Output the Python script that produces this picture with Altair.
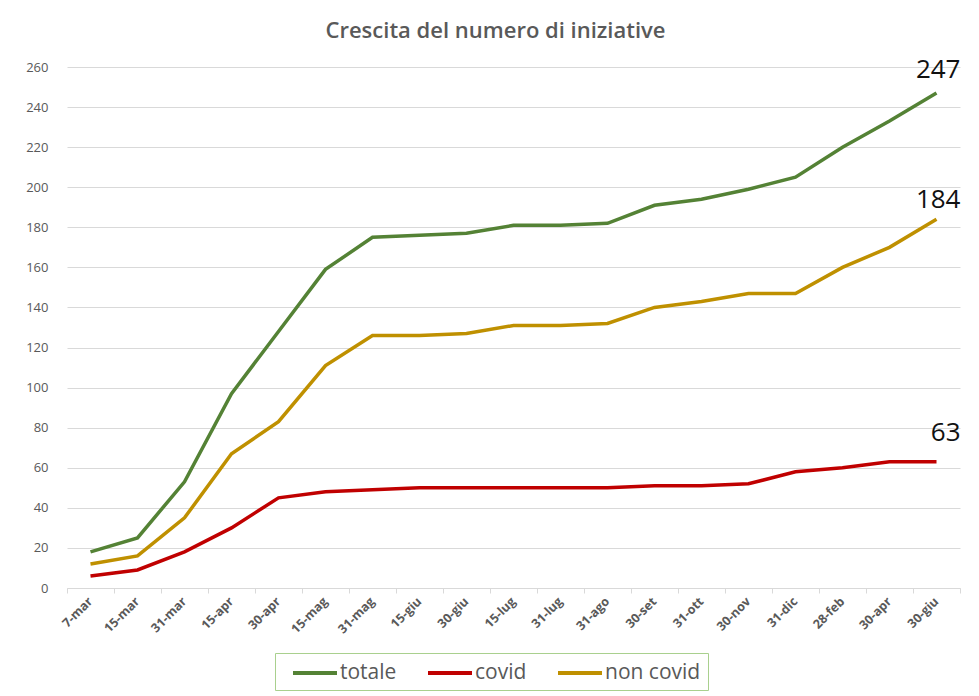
import altair as alt
import pandas as pd

labels = ["7-mar", "15-mar", "31-mar", "15-apr", "30-apr", "15-mag", "31-mag",
          "15-giu", "30-giu", "15-lug", "31-lug", "31-ago", "30-set", "31-ott",
          "30-nov", "31-dic", "28-feb", "30-apr", "30-giu"]
totale = [18, 25, 53, 97, 128, 159, 175, 176, 177, 181, 181, 182, 191, 194, 199, 205, 220, 233, 247]
covid = [6, 9, 18, 30, 45, 48, 49, 50, 50, 50, 50, 50, 51, 51, 52, 58, 60, 63, 63]
non_covid = [12, 16, 35, 67, 83, 111, 126, 126, 127, 131, 131, 132, 140, 143, 147, 147, 160, 170, 184]

series_names = ["totale", "covid", "non covid"]
series_colors = ["#548235", "#c00000", "#bf9000"]

rows = []
for name, vals in zip(series_names, [totale, covid, non_covid]):
    for i, v in enumerate(vals):
        rows.append({"idx": i, "serie": name, "valore": v})
df = pd.DataFrame(rows)

label_expr = "[" + ",".join("'%s'" % l for l in labels) + "][datum.value]"

x_enc = alt.X(
    "idx:O",
    scale=alt.Scale(type="band", paddingInner=0, paddingOuter=0),
    sort=None,
    axis=alt.Axis(
        title=None,
        labelExpr=label_expr,
        labelAngle=-45,
        labelAlign="right",
        labelBaseline="middle",
        labelFontSize=12.5,
        labelFontWeight="bold",
        labelColor="#595959",
        labelFont="Open Sans",
        labelPadding=6,
        bandPosition=1,
        tickExtra=True,
        tickSize=5,
        tickColor="#d9d9d9",
        domainColor="#d9d9d9",
        grid=False,
    ),
)
y_enc = alt.Y(
    "valore:Q",
    scale=alt.Scale(domain=[0, 260], nice=False),
    axis=alt.Axis(
        title=None,
        values=list(range(0, 261, 20)),
        labelFontSize=13,
        labelColor="#595959",
        labelFont="Open Sans",
        labelPadding=19,
        ticks=False,
        domain=False,
        gridColor="#d9d9d9",
        gridWidth=1,
    ),
)
color_enc = alt.Color(
    "serie:N",
    scale=alt.Scale(domain=series_names, range=series_colors),
    legend=alt.Legend(
        title=None,
        orient="none",
        legendX=208,
        legendY=586,
        direction="horizontal",
        symbolType="M-2,0H2",
        symbolStrokeWidth=4,
        symbolSize=484,
        symbolOffset=20,
        labelFontSize=21,
        labelColor="#595959",
        labelFont="Open Sans",
        labelOffset=12,
        columnPadding=20,
        strokeColor="#a9d08e",
        padding=7,
    ),
)

base = alt.Chart(df)
lines = base.mark_line(strokeWidth=3.5).encode(x=x_enc, y=y_enc, color=color_enc)

last = df[df["idx"] == len(labels) - 1]
dys = {"totale": -10, "non covid": -6, "covid": -16}
texts = []
for name in series_names:
    texts.append(
        alt.Chart(last[last["serie"] == name])
        .mark_text(align="right", baseline="bottom", dx=24, dy=dys[name],
                   fontSize=26, font="Open Sans", color="#111111")
        .encode(x=x_enc, y=y_enc, text="valore:Q")
    )

chart = alt.layer(lines, *texts).properties(
    width=893,
    height=521,
    title=alt.TitleParams(
        "Crescita del numero di iniziative",
        fontSize=22,
        font="Open Sans",
        fontWeight=600,
        color="#595959",
        anchor="middle",
        dx=-18,
        offset=14,
    ),
    autosize=alt.AutoSizeParams(type="none"),
    padding={"left": 59, "top": 59, "right": 11, "bottom": 108},
).configure_view(stroke=None)

chart.save("out.html", embed_options={"renderer": "svg", "actions": False})
